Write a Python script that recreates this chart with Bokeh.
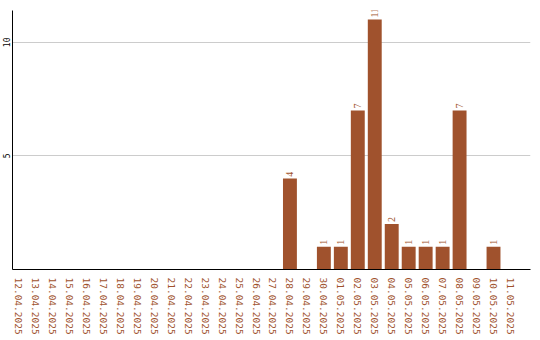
import math
from bokeh.plotting import figure
from bokeh.models import ColumnDataSource, Range1d, FixedTicker, LabelSet
from bokeh.embed import file_html
from bokeh.resources import INLINE

dates = ["12.04.2025", "13.04.2025", "14.04.2025", "15.04.2025", "16.04.2025",
         "17.04.2025", "18.04.2025", "19.04.2025", "20.04.2025", "21.04.2025",
         "22.04.2025", "23.04.2025", "24.04.2025", "25.04.2025", "26.04.2025",
         "27.04.2025", "28.04.2025", "29.04.2025", "30.04.2025", "01.05.2025",
         "02.05.2025", "03.05.2025", "04.05.2025", "05.05.2025", "06.05.2025",
         "07.05.2025", "08.05.2025", "09.05.2025", "10.05.2025", "11.05.2025"]
counts = [0, 0, 0, 0, 0, 0, 0, 0, 0, 0, 0, 0, 0, 0, 0, 0,
          4, 0, 1, 1, 7, 11, 2, 1, 1, 1, 7, 0, 1, 0]
y_ticks = [5, 10]

BAR = "#A0522D"
FONT = "DejaVu Sans Mono"

idx = list(range(len(dates)))
src = ColumnDataSource(dict(x=idx, top=counts))
lab_x = [i for i, c in zip(idx, counts) if c > 0]
lab_y = [c for c in counts if c > 0]
lab_t = [str(c) for c in counts if c > 0]
lsrc = ColumnDataSource(dict(x=lab_x, y=lab_y, t=lab_t))

p = figure(width=540, height=340, output_backend="svg", toolbar_location=None,
           x_range=Range1d(-0.353, 30.18), y_range=Range1d(0, 11.4),
           min_border_left=0, min_border_right=10, min_border_top=10,
           min_border_bottom=71)
p.outline_line_color = None
p.background_fill_color = "white"
p.border_fill_color = "white"

p.vbar(x="x", top="top", width=0.82, bottom=0, source=src,
       fill_color=BAR, line_color=None)
labels = LabelSet(x="x", y="y", text="t", source=lsrc, angle=math.pi / 2,
                  text_align="left", text_baseline="middle", y_offset=2,
                  text_font=FONT, text_font_size="10px", text_color=BAR)
p.add_layout(labels)

p.xgrid.grid_line_color = None
p.ygrid.grid_line_color = "#cccccc"
p.ygrid.ticker = FixedTicker(ticks=y_ticks)

xa = p.xaxis[0]
xa.ticker = FixedTicker(ticks=idx)
xa.major_label_overrides = {i: d for i, d in zip(idx, dates)}
xa.major_label_orientation = "vertical"
xa.major_label_text_font = FONT
xa.major_label_text_font_size = "9.5px"
xa.major_label_text_color = BAR
xa.major_tick_in = 0
xa.major_tick_out = 0
xa.minor_tick_line_color = None
xa.major_label_standoff = 8
xa.axis_line_color = "black"

ya = p.yaxis[0]
ya.ticker = FixedTicker(ticks=y_ticks)
ya.major_label_orientation = "vertical"
ya.major_label_text_font = FONT
ya.major_label_text_font_size = "8px"
ya.major_label_text_color = "black"
ya.major_tick_in = 0
ya.major_tick_out = 0
ya.minor_tick_line_color = None
ya.major_label_standoff = 2
ya.axis_line_color = "black"

open("out.html", "w").write(file_html(p, INLINE))
